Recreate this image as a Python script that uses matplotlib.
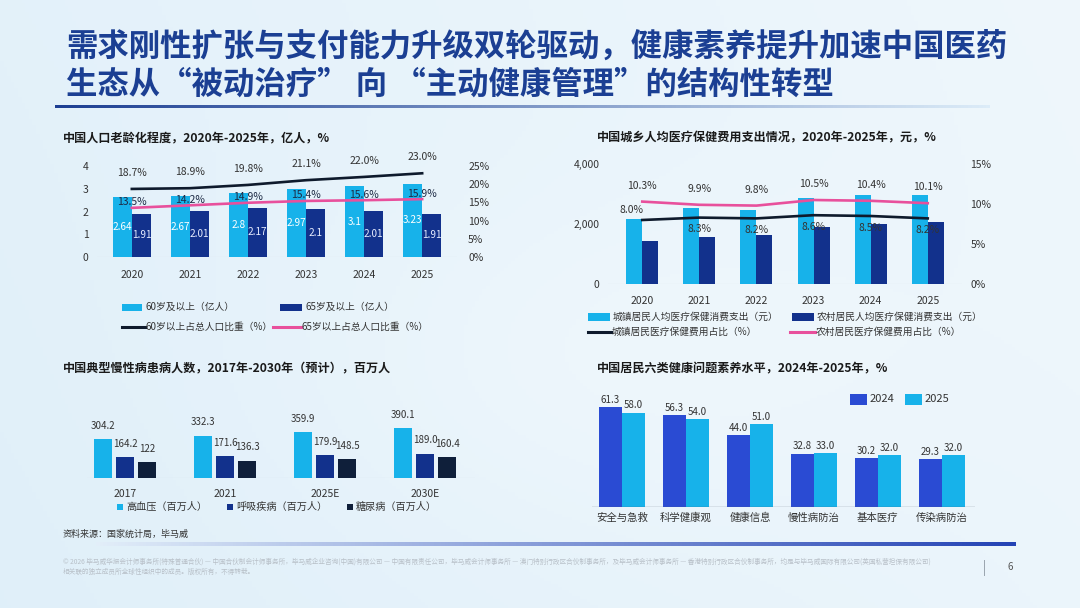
import numpy as np
import matplotlib
matplotlib.use("Agg")
import matplotlib.pyplot as plt
from matplotlib.patches import Rectangle
from matplotlib.lines import Line2D
from matplotlib.colors import LinearSegmentedColormap
from matplotlib.ticker import FuncFormatter

plt.rcParams['font.family'] = ['Noto Sans CJK SC', 'DejaVu Sans']

W, H = 1080, 608

# ---------------- data ----------------
title_lines = ["需求刚性扩张与支付能力升级双轮驱动，健康素养提升加速中国医药",
               "生态从“被动治疗” 向 “主动健康管理”的结构性转型"]

# chart 1
c1_title = "中国人口老龄化程度，2020年-2025年，亿人，%"
c1_years = ["2020", "2021", "2022", "2023", "2024", "2025"]
c1_pop60 = [2.64, 2.67, 2.8, 2.97, 3.1, 3.23]
c1_pop65 = [1.91, 2.01, 2.17, 2.1, 2.01, 1.91]
c1_share60 = [18.7, 18.9, 19.8, 21.1, 22.0, 23.0]
c1_share65 = [13.5, 14.2, 14.9, 15.4, 15.6, 15.9]
c1_legend = ["60岁及以上（亿人）", "65岁及以上（亿人）",
             "60岁以上占总人口比重（%）", "65岁以上占总人口比重（%）"]

# chart 2
c2_title = "中国城乡人均医疗保健费用支出情况，2020年-2025年，元，%"
c2_years = ["2020", "2021", "2022", "2023", "2024", "2025"]
c2_urban = [2172, 2521, 2481, 2850, 2950, 2960]
c2_rural = [1418, 1580, 1632, 1916, 2010, 2050]
c2_urban_share = [8.0, 8.3, 8.2, 8.6, 8.5, 8.2]
c2_rural_share = [10.3, 9.9, 9.8, 10.5, 10.4, 10.1]
c2_legend = ["城镇居民人均医疗保健消费支出（元）", "农村居民人均医疗保健消费支出（元）",
             "城镇居民医疗保健费用占比（%）", "农村居民医疗保健费用占比（%）"]

# chart 3
c3_title = "中国典型慢性病患病人数，2017年-2030年（预计），百万人"
c3_years = ["2017", "2021", "2025E", "2030E"]
c3_hyper = [304.2, 332.3, 359.9, 390.1]
c3_resp = [164.2, 171.6, 179.9, 189.0]
c3_diab = [122, 136.3, 148.5, 160.4]
c3_hyper_lbl = ["304.2", "332.3", "359.9", "390.1"]
c3_resp_lbl = ["164.2", "171.6", "179.9", "189.0"]
c3_diab_lbl = ["122", "136.3", "148.5", "160.4"]
c3_legend = ["高血压（百万人）", "呼吸疾病（百万人）", "糖尿病（百万人）"]

# chart 4
c4_title = "中国居民六类健康问题素养水平，2024年-2025年，%"
c4_cats = ["安全与急救", "科学健康观", "健康信息", "慢性病防治", "基本医疗", "传染病防治"]
c4_2024 = [61.3, 56.3, 44.0, 32.8, 30.2, 29.3]
c4_2025 = [58.0, 54.0, 51.0, 33.0, 32.0, 32.0]
c4_legend = ["2024", "2025"]

source_text = "资料来源：国家统计局，毕马威"
footer1 = ("© 2026 毕马威华振会计师事务所(特殊普通合伙) — 中国合伙制会计师事务所，毕马威企业咨询(中国)有限公司 — 中国有限责任公司，"
           "毕马威会计师事务所 — 澳门特别行政区合伙制事务所，及毕马威会计师事务所 — 香港特别行政区合伙制事务所，均是与毕马威国际有限公司(英国私营担保有限公司)")
footer2 = "相关联的独立成员所全球性组织中的成员。版权所有，不得转载。"
page_no = "6"

# ---------------- colours ----------------
LIGHT = "#17b2ea"
NAVY = "#12318c"
DARKNAVY = "#0f1f3a"
ROYAL = "#2a4bd3"
BLACKLINE = "#0e1a2c"
PINK = "#e8509c"
TXT = "#333333"

fig = plt.figure(figsize=(W / 100, H / 100), dpi=100)


def px_axes(x0, y0, x1, y1, **kw):
    return fig.add_axes([x0 / W, 1 - y1 / H, (x1 - x0) / W, (y1 - y0) / H], **kw)


def fx(x):
    return x / W


def fy(y):
    return 1 - y / H


# background gradient
bg = px_axes(0, 0, W, H)
bg.set_axis_off()
yy, xx = np.mgrid[0:1:200j, 0:1:300j]
base = np.array([0.86, 0.93, 0.975])
whiter = np.array([0.95, 0.975, 0.99])
t = np.clip(0.35 + 0.5 * xx - 0.15 * yy + 0.25 * np.exp(-((xx - 0.55) ** 2 + (yy - 0.6) ** 2) / 0.08), 0, 1)
img = base[None, None, :] * (1 - t[..., None]) + whiter[None, None, :] * t[..., None]
bg.imshow(img, aspect='auto', extent=[0, 1, 0, 1], zorder=0)
bg.set_xlim(0, 1)
bg.set_ylim(0, 1)

# title
fig.text(fx(66), fy(47), title_lines[0], fontsize=22.6, fontweight='bold', color="#1b3f93", va='center', ha='left')
fig.text(fx(66), fy(85), title_lines[1], fontsize=22.6, fontweight='bold', color="#1b3f93", va='center', ha='left')


def gradient_bar(x0, y0, x1, y1, c_left, c_right):
    a = px_axes(x0, y0, x1, y1)
    a.set_axis_off()
    cmap = LinearSegmentedColormap.from_list("g", [c_left, c_right])
    a.imshow(np.linspace(0, 1, 256)[None, :], cmap=cmap, aspect='auto', extent=[0, 1, 0, 1])
    return a


gradient_bar(55, 105.5, 990, 108.5, "#1d3f93", "#dcecf8")
gradient_bar(96, 542, 1015, 546, "#e2eef9", "#2443b5")


# legend helpers (figure pixel coordinates)
def leg_patch(x, y, w, h, color, text, fs=7):
    fig.patches.append(Rectangle((fx(x), fy(y + h / 2)), w / W, h / H, transform=fig.transFigure,
                                 facecolor=color, edgecolor='none'))
    fig.text(fx(x + w + 3), fy(y), text, fontsize=fs, color=TXT, va='center', ha='left')


def leg_line(x, y, w, color, text, fs=7):
    fig.lines.append(Line2D([fx(x), fx(x + w)], [fy(y), fy(y)], transform=fig.transFigure,
                            color=color, lw=2.2))
    fig.text(fx(x + w + 1), fy(y), text, fontsize=fs, color=TXT, va='center', ha='left')


def style_axis(ax):
    for s in ax.spines.values():
        s.set_visible(False)
    ax.tick_params(length=0, labelsize=7.5, labelcolor=TXT)
    ax.patch.set_alpha(0)


# ---------------- chart 1 ----------------
fig.text(fx(63), fy(138), c1_title, fontsize=8.7, fontweight='bold', color="#1a1a1a", va='center')
ax1 = px_axes(97, 166, 457, 257)
x = np.arange(len(c1_years))
bw = 0.33
b1 = ax1.bar(x - bw / 2, c1_pop60, bw, color=LIGHT, zorder=2)
b2 = ax1.bar(x + bw / 2, c1_pop65, bw, color=NAVY, zorder=2)
for rect, v in zip(b1, c1_pop60):
    ax1.text(rect.get_x() + rect.get_width() / 2, v / 2, f"{v:g}", ha='center', va='center',
             fontsize=7.2, color='white', zorder=5)
for rect, v in zip(b2, c1_pop65):
    ax1.text(rect.get_x() + rect.get_width() / 2, v / 2, f"{v:g}", ha='center', va='center',
             fontsize=7.2, color='#e6ecff', zorder=5)
ax1.set_xlim(-0.6, 5.6)
ax1.set_ylim(0, 4)
ax1.set_yticks([0, 1, 2, 3, 4])
ax1.set_xticks(x)
ax1.set_xticklabels(c1_years)
style_axis(ax1)
ax1.tick_params(axis='x', pad=9)
ax1.tick_params(axis='y', pad=6)
ax1.axhline(0, color="#d5dde6", lw=0.8, zorder=1)
ax1r = ax1.twinx()
ax1r.plot(x, c1_share60, color=BLACKLINE, lw=1.9, zorder=4)
ax1r.plot(x, c1_share65, color=PINK, lw=1.9, zorder=4)
for xi, v in zip(x, c1_share60):
    ax1r.annotate(f"{v:.1f}%", (xi, v), xytext=(0, 11.5), textcoords='offset points', ha='center',
                  va='center', fontsize=7.5, color=TXT, annotation_clip=False)
for xi, v in zip(x, c1_share65):
    ax1r.annotate(f"{v:.1f}%", (xi, v), xytext=(0, 4), textcoords='offset points', ha='center',
                  va='center', fontsize=7.5, color="#1d2a44", annotation_clip=False, zorder=6)
ax1r.set_ylim(0, 25)
ax1r.set_yticks([0, 5, 10, 15, 20, 25])
ax1r.yaxis.set_major_formatter(FuncFormatter(lambda v, p: f"{v:.0f}%"))
style_axis(ax1r)
ax1r.tick_params(axis='y', pad=8)

leg_patch(122, 307, 20, 7, LIGHT, c1_legend[0])
leg_patch(280, 307, 22, 7, NAVY, c1_legend[1])
leg_line(122, 327, 23, BLACKLINE, c1_legend[2])
leg_line(273, 327, 28, PINK, c1_legend[3])

# ---------------- chart 2 ----------------
fig.text(fx(597), fy(138), c2_title, fontsize=8.7, fontweight='bold', color="#1a1a1a", va='center')
ax2 = px_axes(608, 164, 962, 284)
x = np.arange(len(c2_years))
bw = 0.28
ax2.bar(x - bw / 2, c2_urban, bw, color=LIGHT, zorder=2)
ax2.bar(x + bw / 2, c2_rural, bw, color=NAVY, zorder=2)
ax2.set_xlim(-0.6, 5.6)
ax2.set_ylim(0, 4000)
ax2.set_yticks([0, 2000, 4000])
ax2.yaxis.set_major_formatter(FuncFormatter(lambda v, p: f"{v:,.0f}"))
ax2.set_xticks(x)
ax2.set_xticklabels(c2_years)
style_axis(ax2)
ax2.tick_params(axis='x', pad=9)
ax2.tick_params(axis='y', pad=6)
ax2.axhline(0, color="#d5dde6", lw=0.8, zorder=1)
ax2r = ax2.twinx()
ax2r.plot(x, c2_urban_share, color=BLACKLINE, lw=1.9, zorder=4)
ax2r.plot(x, c2_rural_share, color=PINK, lw=1.9, zorder=4)
for i, (xi, v) in enumerate(zip(x, c2_rural_share)):
    ax2r.annotate(f"{v:.1f}%", (xi, v), xytext=(0, 11.5), textcoords='offset points', ha='center',
                  va='center', fontsize=7.5, color=TXT, annotation_clip=False)
for i, (xi, v) in enumerate(zip(x, c2_urban_share)):
    if i == 0:
        off = (-8, 7.5)
    else:
        off = (0, -8.5)
    ax2r.annotate(f"{v:.1f}%", (xi, v), xytext=off, textcoords='offset points', ha='center',
                  va='center', fontsize=7.5, color=TXT, annotation_clip=False, zorder=6)
ax2r.set_ylim(0, 15)
ax2r.set_yticks([0, 5, 10, 15])
ax2r.yaxis.set_major_formatter(FuncFormatter(lambda v, p: f"{v:.0f}%"))
style_axis(ax2r)
ax2r.tick_params(axis='y', pad=6)

leg_patch(588, 317, 22, 8, LIGHT, c2_legend[0])
leg_patch(792, 317, 22, 8, NAVY, c2_legend[1])
leg_line(588, 332, 23, BLACKLINE, c2_legend[2])
leg_line(790, 332, 25, PINK, c2_legend[3])

# ---------------- chart 3 ----------------
fig.text(fx(63), fy(368), c3_title, fontsize=8.7, fontweight='bold', color="#1a1a1a", va='center')
ax3 = px_axes(87, 400, 475, 478)
x = np.arange(len(c3_years))
bw = 0.18
off = 0.22
s1 = ax3.bar(x - off, c3_hyper, bw, color=LIGHT, zorder=2)
s2 = ax3.bar(x, c3_resp, bw, color=NAVY, zorder=2)
s3 = ax3.bar(x + off, c3_diab, bw, color=DARKNAVY, zorder=2)
for bars, lbls in ((s1, c3_hyper_lbl), (s2, c3_resp_lbl), (s3, c3_diab_lbl)):
    for rect, lb in zip(bars, lbls):
        ax3.annotate(lb, (rect.get_x() + rect.get_width() / 2, rect.get_height()), xytext=(0, 6),
                     textcoords='offset points', ha='center', va='bottom', fontsize=7,
                     color=TXT, annotation_clip=False)
ax3.set_xlim(-0.38, 3.5)
ax3.set_ylim(0, 610)
ax3.set_xticks(x)
ax3.set_xticklabels(c3_years)
ax3.set_yticks([])
style_axis(ax3)
ax3.tick_params(axis='x', pad=8)
ax3.axhline(0, color="#cfd8e2", lw=0.8, zorder=1)

for xm, col, lb in ((120, LIGHT, c3_legend[0]), (230, NAVY, c3_legend[1]), (350, DARKNAVY, c3_legend[2])):
    leg_patch(xm - 3, 507, 6, 6, col, lb, fs=7.3)

fig.text(fx(63), fy(534), source_text, fontsize=6.5, color="#333333", va='center')

# ---------------- chart 4 ----------------
fig.text(fx(597), fy(369), c4_title, fontsize=8.7, fontweight='bold', color="#1a1a1a", va='center')
ax4 = px_axes(592, 393, 975, 507)
x = np.arange(len(c4_cats))
bw = 0.36
r1 = ax4.bar(x - bw / 2, c4_2024, bw, color=ROYAL, zorder=2)
r2 = ax4.bar(x + bw / 2, c4_2025, bw, color=LIGHT, zorder=2)
for bars, vals in ((r1, c4_2024), (r2, c4_2025)):
    for rect, v in zip(bars, vals):
        ax4.annotate(f"{v:.1f}", (rect.get_x() + rect.get_width() / 2, v), xytext=(0, 1.5),
                     textcoords='offset points', ha='center', va='bottom', fontsize=7,
                     color=TXT, annotation_clip=False)
ax4.set_xlim(-0.47, 5.52)
ax4.set_ylim(0, 70)
ax4.set_xticks(x)
ax4.set_xticklabels(c4_cats)
ax4.set_yticks([])
style_axis(ax4)
ax4.tick_params(axis='x', pad=4)
ax4.axhline(0, color="#555f6d", lw=0.9, zorder=3)

leg_patch(850, 399, 17, 11, ROYAL, c4_legend[0], fs=8)
leg_patch(905, 399, 17, 11, LIGHT, c4_legend[1], fs=8)

# ---------------- footer ----------------
fig.text(fx(63), fy(562), footer1, fontsize=4.8, color="#b8c0c8", va='center')
fig.text(fx(63), fy(572), footer2, fontsize=4.8, color="#b8c0c8", va='center')
fig.lines.append(Line2D([fx(984), fx(984)], [fy(560), fy(575)], transform=fig.transFigure,
                        color="#9aa4ae", lw=0.7))
fig.text(fx(1010), fy(567), page_no, fontsize=7, color="#555555", va='center', ha='center')

fig.savefig("out.png", dpi=100)
